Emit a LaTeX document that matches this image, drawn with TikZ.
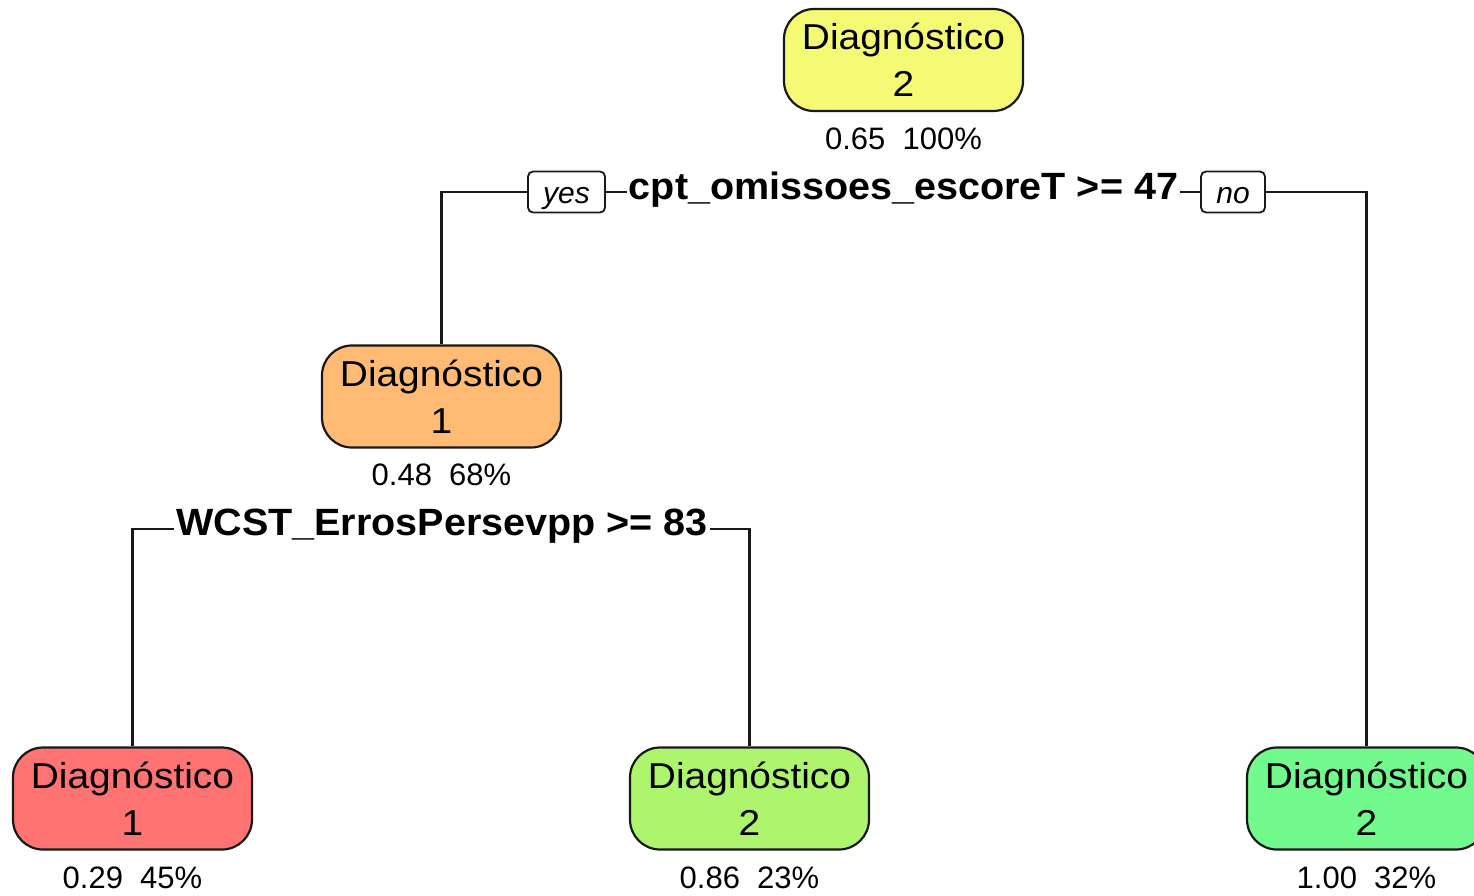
\documentclass[tikz,border=0pt]{standalone}
\usepackage{fontspec}
\setmainfont{Liberation Sans}
\newfontfamily\boxfont[FakeStretch=1.08]{Liberation Sans}
\newfontfamily\splitfont[FakeStretch=1.04]{Liberation Sans}
\newfontfamily\statfont{Liberation Sans}
\usetikzlibrary{backgrounds}
\definecolor{cyellow}{RGB}{244,250,116}
\definecolor{corange}{RGB}{255,187,115}
\definecolor{cred}{RGB}{255,115,115}
\definecolor{clime}{RGB}{172,245,108}
\definecolor{cgreen}{RGB}{115,250,140}
\tikzset{
  leaf/.style={draw=black!90, line width=2.2pt, rounded corners=30pt,
    minimum width=239pt, minimum height=102pt, inner sep=0pt, align=center,
    font=\boxfont\fontsize{36}{47}\selectfont},
  stat/.style={inner sep=0pt, font=\statfont\fontsize{31}{34}\selectfont},
  split/.style={fill=white, inner sep=2pt, font=\splitfont\bfseries\fontsize{38}{42}\selectfont},
  yn/.style={draw=black!90, fill=white, line width=1.8pt, rounded corners=5pt,
    minimum width=76pt, minimum height=41pt, inner sep=2pt,
    text height=22pt, text depth=0pt,
    font=\statfont\itshape\fontsize{30}{34}\selectfont},
  edge/.style={draw=black!90, line width=2.3pt}
}
\begin{document}
\begin{tikzpicture}[x=1pt,y=-1pt]
\useasboundingbox (0,0) rectangle (1474,895);
\clip (0,0) rectangle (1474,895);
% boxes
\node[leaf, fill=cyellow] (top) at (903.5,60) {Diagnóstico\\2};
\node[stat] (topS) at (903.5,139) {0.65\ \ 100\%};
\node[leaf, fill=corange] (mid) at (441.5,396.5) {Diagnóstico\\1};
\node[stat] (midS) at (441.5,475) {0.48\ \ 68\%};
\node[leaf, fill=cred] (leafL) at (132.5,798.5) {Diagnóstico\\1};
\node[stat] (leafLS) at (132.5,878) {0.29\ \ 45\%};
\node[leaf, fill=clime] (leafM) at (749.5,798.5) {Diagnóstico\\2};
\node[stat] (leafMS) at (749.5,878) {0.86\ \ 23\%};
\node[leaf, fill=cgreen] (leafR) at (1366.5,798.5) {Diagnóstico\\2};
\node[stat] (leafRS) at (1366.5,878) {1.00\ \ 32\%};
% split labels
\node[yn, minimum width=77pt] (yes) at (566.5,192) {yes};
\node[yn, minimum width=64pt] (no) at (1233,192) {no};
\node[split] (s1) at (903.5,190) {cpt\_omissoes\_escoreT >= 47};
\coordinate (c2) at (441,529);
\node[split] (s2) at (442,526) {WCST\_ErrosPersevpp >= 83};
\begin{scope}[on background layer]
\fill[white] (0,0) rectangle (1474,895);
\draw[edge] (mid.north) |- (no.center) -| (leafR.north);
\draw[edge] (leafL.north) |- (c2) -| (leafM.north);
\end{scope}
\end{tikzpicture}
\end{document}
